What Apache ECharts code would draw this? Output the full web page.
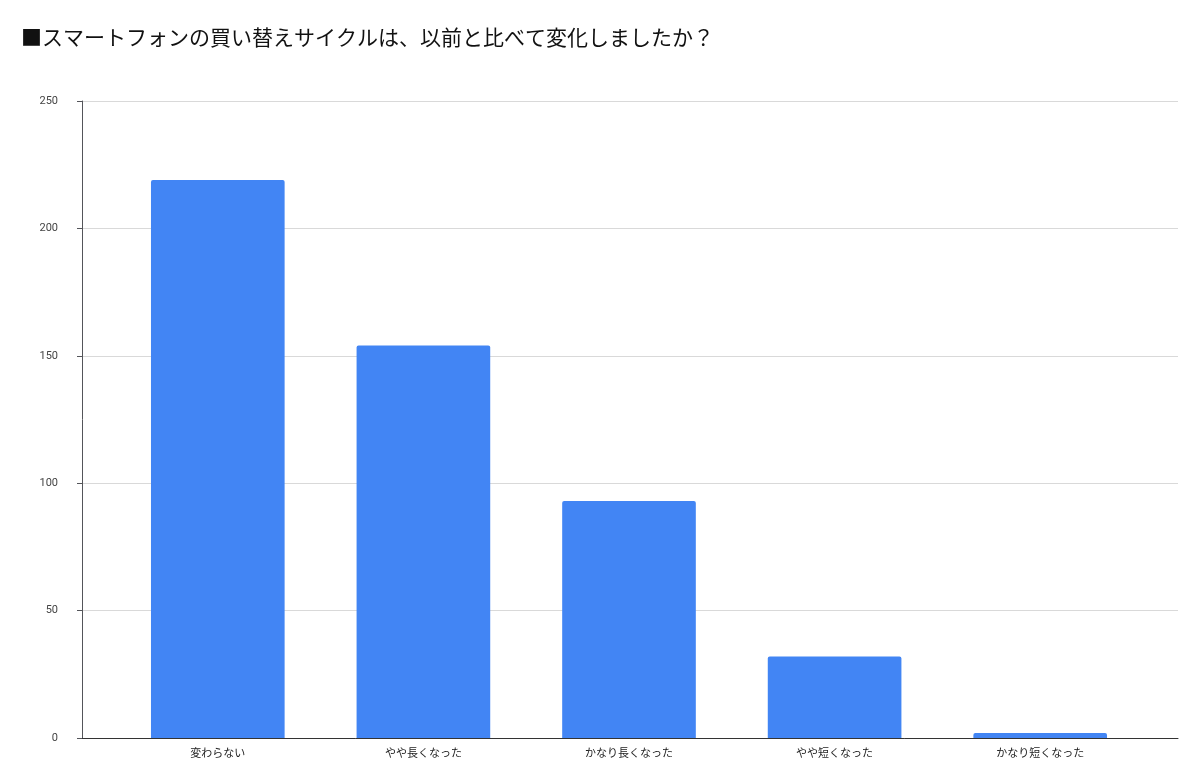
<!DOCTYPE html>
<html>
<head>
<meta charset="utf-8">
<script src="https://cdn.jsdelivr.net/npm/echarts@6/dist/echarts.min.js"></script>
<style>
  html, body { margin: 0; padding: 0; background: #fff; }
  #chart { width: 1200px; height: 779px; }
</style>
</head>
<body>
<div id="chart"></div>
<script>
var categories = ["変わらない", "やや長くなった", "かなり長くなった", "やや短くなった", "かなり短くなった"];
var counts = [219, 154, 93, 32, 2];

var chart = echarts.init(document.getElementById("chart"));

// grid 0: frame (gridlines, y labels, baseline); grid 1: the bars, a bit narrower
var option = {
  backgroundColor: "#fff",
  title: {
    text: "■スマートフォンの買い替えサイクルは、以前と比べて変化しましたか？",
    left: 16,
    top: 22,
    textStyle: {
      fontFamily: "Noto Sans CJK JP",
      fontSize: 21,
      fontWeight: "normal",
      color: "#111",
    },
  },
  grid: [
    { left: 82, right: 22, top: 101, bottom: 41 },
    { left: 115, right: 57, top: 101, bottom: 41 },
  ],
  xAxis: [
    {
      gridIndex: 0,
      type: "value",
      min: 0,
      max: 1,
      axisLabel: { show: false },
      axisTick: { show: false },
      splitLine: { show: false },
      axisLine: { show: true, onZero: false, lineStyle: { color: "#333", width: 1 } },
    },
    {
      gridIndex: 1,
      type: "category",
      data: categories,
      axisTick: { show: false },
      axisLine: { show: false },
      axisLabel: {
        fontFamily: "Noto Sans CJK JP",
        fontSize: 11,
        color: "#222",
        margin: 9,
      },
    },
  ],
  yAxis: [
    {
      gridIndex: 0,
      type: "value",
      min: 0,
      max: 250,
      interval: 50,
      axisLabel: { fontFamily: "Roboto", fontSize: 11, color: "#444", margin: 24 },
      splitLine: { lineStyle: { color: "#d9d9d9" } },
    },
    {
      gridIndex: 1,
      type: "value",
      min: 0,
      max: 250,
      interval: 50,
      axisLabel: { show: false },
      splitLine: { show: false },
    },
  ],
  series: [
    {
      type: "bar",
      xAxisIndex: 1,
      yAxisIndex: 1,
      data: counts,
      barWidth: "65%",
      itemStyle: { color: "#4285f4", borderRadius: [2, 2, 0, 0] },
    },
  ],
};

chart.setOption(option);
</script>
</body>
</html>
